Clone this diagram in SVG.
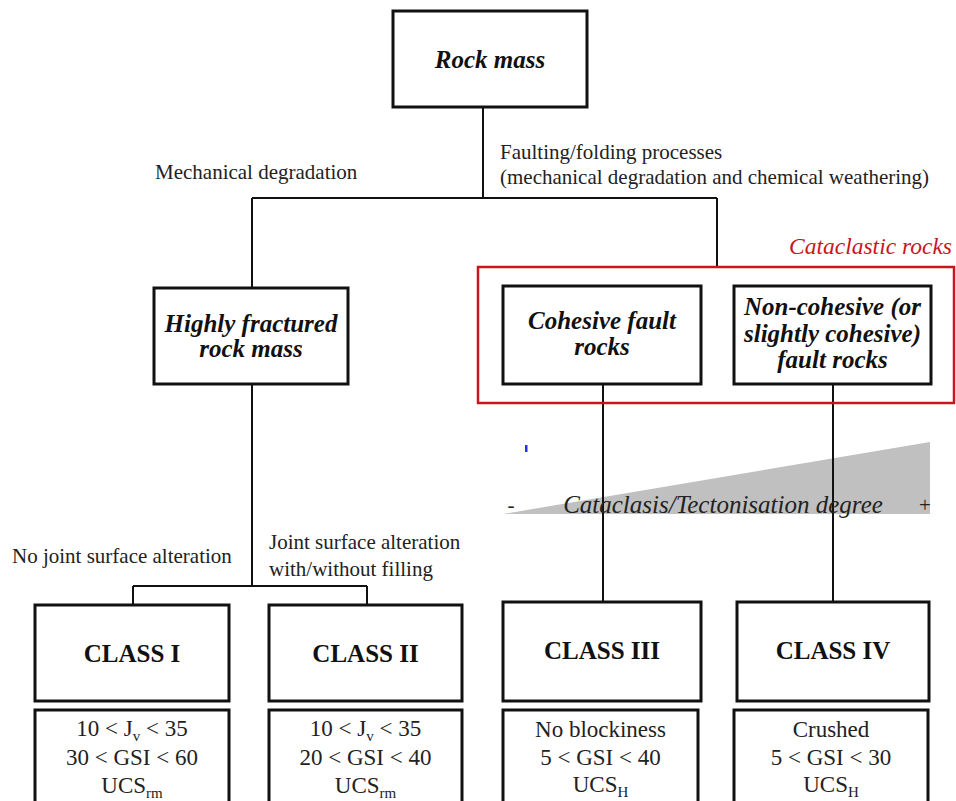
<svg xmlns="http://www.w3.org/2000/svg" width="956" height="801" viewBox="0 0 956 801">
<style>
.box{fill:#fff;stroke:#111;stroke-width:3}
.red{fill:none;stroke:#c8161d;stroke-width:2.5}
.ln{fill:none;stroke:#111;stroke-width:2}
.title{font-family:"Liberation Serif",serif;font-weight:bold;font-style:italic;font-size:25px;fill:#111;text-anchor:middle}
.cls{font-family:"Liberation Serif",serif;font-weight:bold;font-size:25px;fill:#111;text-anchor:middle}
.lab{font-family:"Liberation Serif",serif;font-size:21px;fill:#222}
.dat{font-family:"Liberation Serif",serif;font-size:23px;fill:#222;text-anchor:middle}
.sub{font-size:15px}
</style>
<rect x="0" y="0" width="956" height="801" fill="#fff"/>
<g id="gradient-wedge">
<polygon points="503,514 930,442 930,514" fill="#c0c0c0"/>
</g>
<g id="connectors">
<path class="ln" d="M483,107 V198 M252,198 H717 M252,198 V288 M717,198 V267"/>
<path class="ln" d="M252,384 V586 M133,586 H367 M133,586 V605 M367,586 V605"/>
<path class="ln" d="M603,384 V602 M833,384 V602"/>
</g>
<g id="labels">
<text class="lab" x="500" y="159">Faulting/folding processes</text>
<text class="lab" x="500" y="184">(mechanical degradation and chemical weathering)</text>
<text class="lab" x="155" y="179">Mechanical degradation</text>
<text class="lab" x="12" y="563">No joint surface alteration</text>
<text class="lab" x="269" y="549">Joint surface alteration</text>
<text class="lab" x="269" y="576">with/without filling</text>
</g>
<g id="rock-mass">
<rect class="box" x="393" y="11" width="194" height="96"/>
<text class="title" x="490" y="68" font-size="26">Rock mass</text>
</g>
<g id="cataclastic-rocks">
<rect class="red" x="478" y="267" width="476" height="136"/>
<text x="952" y="254" font-family="Liberation Serif, serif" font-style="italic" font-size="23.5" fill="#c8161d" text-anchor="end">Cataclastic rocks</text>
</g>
<g id="highly-fractured">
<rect class="box" x="154" y="288" width="194" height="96"/>
<text class="title" x="251" y="332">Highly fractured</text>
<text class="title" x="251" y="357">rock mass</text>
</g>
<g id="cohesive">
<rect class="box" x="503" y="286" width="198" height="98"/>
<text class="title" x="602" y="329">Cohesive fault</text>
<text class="title" x="602" y="355">rocks</text>
</g>
<g id="non-cohesive">
<rect class="box" x="734" y="286" width="197" height="98"/>
<text class="title" x="832.5" y="315">Non-cohesive (or</text>
<text class="title" x="832.5" y="342">slightly cohesive)</text>
<text class="title" x="832.5" y="368">fault rocks</text>
</g>
<g id="degree-axis">
<rect x="525" y="445" width="2.5" height="7" fill="#2233ee"/>
<text x="511" y="512" font-family="Liberation Serif, serif" font-size="21" fill="#222" text-anchor="middle">-</text>
<text x="723" y="513" font-family="Liberation Serif, serif" font-style="italic" font-size="25" fill="#222" text-anchor="middle">Cataclasis/Tectonisation degree</text>
<text x="925" y="512" font-family="Liberation Serif, serif" font-size="21" fill="#222" text-anchor="middle">+</text>
</g>
<g id="class-1">
<rect class="box" x="35" y="605" width="194" height="96"/>
<text class="cls" x="132" y="662">CLASS I</text>
<rect class="box" x="35" y="710" width="194" height="100"/>
<text class="dat" x="132" y="736">10 &lt; J<tspan class="sub" dy="5">v</tspan><tspan dy="-5"> &lt; 35</tspan></text>
<text class="dat" x="132" y="765">30 &lt; GSI &lt; 60</text>
<text class="dat" x="132" y="793">UCS<tspan class="sub" dy="5">rm</tspan></text>
</g>
<g id="class-2">
<rect class="box" x="269" y="605" width="193" height="96"/>
<text class="cls" x="365.5" y="662">CLASS II</text>
<rect class="box" x="269" y="710" width="193" height="100"/>
<text class="dat" x="365.5" y="736">10 &lt; J<tspan class="sub" dy="5">v</tspan><tspan dy="-5"> &lt; 35</tspan></text>
<text class="dat" x="365.5" y="765">20 &lt; GSI &lt; 40</text>
<text class="dat" x="365.5" y="793">UCS<tspan class="sub" dy="5">rm</tspan></text>
</g>
<g id="class-3">
<rect class="box" x="503" y="602" width="198" height="99"/>
<text class="cls" x="602" y="659">CLASS III</text>
<rect class="box" x="503" y="710" width="195" height="100"/>
<text class="dat" x="600.5" y="737">No blockiness</text>
<text class="dat" x="600.5" y="765">5 &lt; GSI &lt; 40</text>
<text class="dat" x="600.5" y="792">UCS<tspan class="sub" dy="5">H</tspan></text>
</g>
<g id="class-4">
<rect class="box" x="737" y="602" width="192" height="99"/>
<text class="cls" x="833" y="659">CLASS IV</text>
<rect class="box" x="734" y="710" width="194" height="100"/>
<text class="dat" x="831" y="737">Crushed</text>
<text class="dat" x="831" y="765">5 &lt; GSI &lt; 30</text>
<text class="dat" x="831" y="792">UCS<tspan class="sub" dy="5">H</tspan></text>
</g>
</svg>
